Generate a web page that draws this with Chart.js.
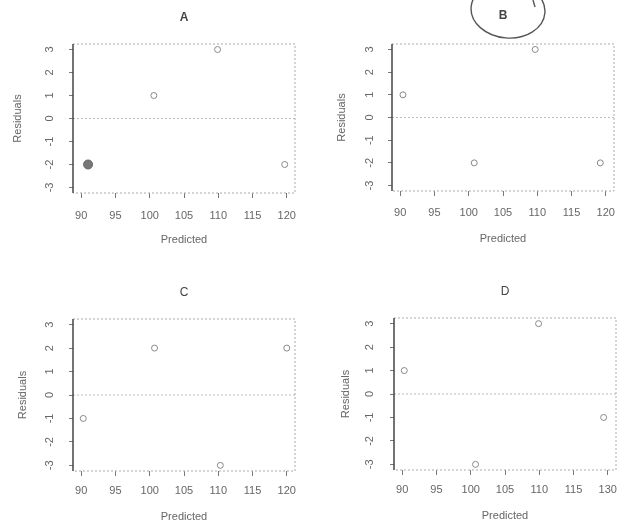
<!DOCTYPE html>
<html>
<head>
<meta charset="utf-8">
<script src="https://cdn.jsdelivr.net/npm/chart.js@4.4.1/dist/chart.umd.min.js"></script>
<style>
body { margin: 0; background: #fff; }
#wrap { position: relative; width: 621px; height: 527px; overflow: hidden; background: #fff; }
#wrap canvas { position: absolute; }
</style>
</head>
<body>
<div id="wrap">
  <canvas id="cA" width="310" height="260" style="left:0px;top:0px"></canvas>
  <canvas id="cB" width="311" height="260" style="left:310px;top:0px"></canvas>
  <canvas id="cC" width="310" height="267" style="left:0px;top:260px"></canvas>
  <canvas id="cD" width="311" height="267" style="left:310px;top:260px"></canvas>
</div>
<script>
// --- values ---
const xTicks = [90, 95, 100, 105, 110, 115, 120];
const xTickLabels = ['90', '95', '100', '105', '110', '115', '120'];
const xTickLabelsD = ['90', '95', '100', '105', '110', '115', '130']; // as printed in panel D
const yTicks = [-3, -2, -1, 0, 1, 2, 3];
const yTickLabels = ['-3', '-2', '-1', '0', '1', '2', '3'];

const predA = [91.0, 100.6, 109.9, 119.7];
const residA = [-2, 1, 3, -2];
const predB = [90.4, 100.8, 109.7, 119.2];
const residB = [1, -2, 3, -2];
const predC = [90.3, 100.7, 110.3, 120.0];
const residC = [-1, 2, -3, 2];
const predD = [90.3, 100.7, 109.9, 119.4];
const residD = [1, -3, 3, -1];

const FONT = '"Liberation Sans", Arial, sans-serif';
const INK = '#666';

// box, dotted zero line and the rotated R-style y labels
const residualFrame = {
    id: 'residualFrame',
    beforeDatasetsDraw(chart, args, opts) {
        const { ctx, chartArea: a } = chart;
        const y = chart.scales.y;
        ctx.save();
        ctx.lineWidth = 1;
        ctx.setLineDash([2, 2]);
        ctx.strokeStyle = '#aaa';
        ctx.beginPath();
        ctx.moveTo(a.left, a.top);
        ctx.lineTo(a.right, a.top);
        ctx.lineTo(a.right, a.bottom);
        ctx.lineTo(a.left, a.bottom);
        ctx.stroke();

        const y0 = y.getPixelForValue(0);
        ctx.strokeStyle = '#bbb';
        ctx.beginPath();
        ctx.moveTo(a.left, y0);
        ctx.lineTo(a.right, y0);
        ctx.stroke();

        ctx.setLineDash([]);
        ctx.strokeStyle = '#444';
        ctx.lineWidth = 1.5;
        ctx.beginPath();
        ctx.moveTo(a.left, a.top);
        ctx.lineTo(a.left, a.bottom);
        ctx.stroke();

        ctx.fillStyle = INK;
        ctx.font = '11px ' + FONT;
        ctx.textAlign = 'center';
        ctx.textBaseline = 'middle';
        y.ticks.forEach((t, i) => {
            ctx.save();
            ctx.translate(opts.labelX, y.getPixelForValue(t.value));
            ctx.rotate(-Math.PI / 2);
            ctx.fillText(yTickLabels[i], 0, 0);
            ctx.restore();
        });

        // pen circle drawn round the "B" on the scan
        if (opts.ring) {
            const cx = (a.left + a.right) / 2 + 5;
            ctx.strokeStyle = '#555';
            ctx.lineWidth = 1.4;
            ctx.beginPath();
            ctx.ellipse(cx, 10, 37, 28, 0.08, 0, Math.PI * 2);
            ctx.stroke();
            ctx.beginPath();
            ctx.moveTo(cx + 25, 0);
            ctx.lineTo(cx + 27, 7);
            ctx.stroke();
        }
        ctx.restore();
    }
};

function makePanel(id, letter, pred, resid, labels, g) {
    const pts = pred.map((x, i) => ({ x: x, y: resid[i] }));
    const lh = 14.4;
    return new Chart(document.getElementById(id), {
        type: 'scatter',
        data: {
            datasets: [{
                data: pts,
                pointStyle: 'circle',
                pointRadius: ctx => ctx.dataIndex === g.blob ? 4.5 : 3,
                borderColor: ctx => ctx.dataIndex === g.blob ? '#666' : '#888',
                backgroundColor: ctx => ctx.dataIndex === g.blob ? '#777' : 'rgba(0,0,0,0)',
                borderWidth: 1
            }]
        },
        options: {
            responsive: false,
            animation: false,
            events: [],
            layout: { padding: { left: 0, top: 0, right: g.W - g.right, bottom: 0 } },
            plugins: {
                legend: { display: false },
                tooltip: { enabled: false },
                title: {
                    display: true,
                    text: letter,
                    fullSize: false,
                    color: '#444',
                    font: { family: FONT, size: 12, weight: g.bold ? 'bold' : 'normal' },
                    padding: { top: g.titleY - lh / 2, bottom: g.top - g.titleY - lh / 2 }
                },
                residualFrame: { labelX: g.yLabX, ring: letter === 'B' }
            },
            scales: {
                x: {
                    type: 'linear',
                    min: 88.8,
                    max: 121.2,
                    afterBuildTicks: s => { s.ticks = xTicks.map(v => ({ value: v })); },
                    afterFit: s => {
                        s.height = g.H - g.bottom;
                        s.paddingLeft = 0;
                        s.paddingRight = 0;
                    },
                    ticks: {
                        autoSkip: false,
                        maxRotation: 0,
                        color: INK,
                        font: { family: FONT, size: 11 },
                        padding: g.xLabY - g.bottom - 5 - 6,
                        callback: (v, i) => labels[i]
                    },
                    grid: { drawOnChartArea: false, tickLength: 5, tickColor: '#777' },
                    border: { display: false },
                    title: {
                        display: true,
                        text: 'Predicted',
                        color: INK,
                        font: { family: FONT, size: 11 },
                        padding: { top: 0, bottom: g.H - g.xTitY - 6.6 }
                    }
                },
                y: {
                    type: 'linear',
                    min: -3.24,
                    max: 3.24,
                    afterBuildTicks: s => { s.ticks = yTicks.map(v => ({ value: v })); },
                    afterFit: s => {
                        s.width = g.left;
                        s.paddingTop = 0;
                        s.paddingBottom = 0;
                    },
                    ticks: { display: false },
                    grid: { drawOnChartArea: false, tickLength: 4, tickColor: '#777' },
                    border: { display: false },
                    title: {
                        display: true,
                        text: 'Residuals',
                        color: INK,
                        font: { family: FONT, size: 11 },
                        padding: { top: g.yTitX - 6.6, bottom: 0 }
                    }
                }
            }
        },
        plugins: [residualFrame]
    });
}

makePanel('cA', 'A', predA, residA, xTickLabels,
    { W: 310, H: 260, left: 73, right: 295, top: 44, bottom: 193, titleY: 18, yLabX: 50, yTitX: 18, xLabY: 215, xTitY: 240, blob: 0, bold: true });
makePanel('cB', 'B', predB, residB, xTickLabels,
    { W: 311, H: 260, left: 82, right: 304, top: 44, bottom: 191, titleY: 16, yLabX: 60, yTitX: 32, xLabY: 212, xTitY: 239, blob: -1, bold: true });
makePanel('cC', 'C', predC, residC, xTickLabels,
    { W: 310, H: 267, left: 73, right: 295, top: 59, bottom: 211, titleY: 33, yLabX: 50, yTitX: 23, xLabY: 230, xTitY: 257, blob: -1, bold: false });
makePanel('cD', 'D', predD, residD, xTickLabelsD,
    { W: 311, H: 267, left: 84, right: 307, top: 58, bottom: 210, titleY: 32, yLabX: 60, yTitX: 36, xLabY: 229, xTitY: 256, blob: -1, bold: false });
</script>
</body>
</html>
